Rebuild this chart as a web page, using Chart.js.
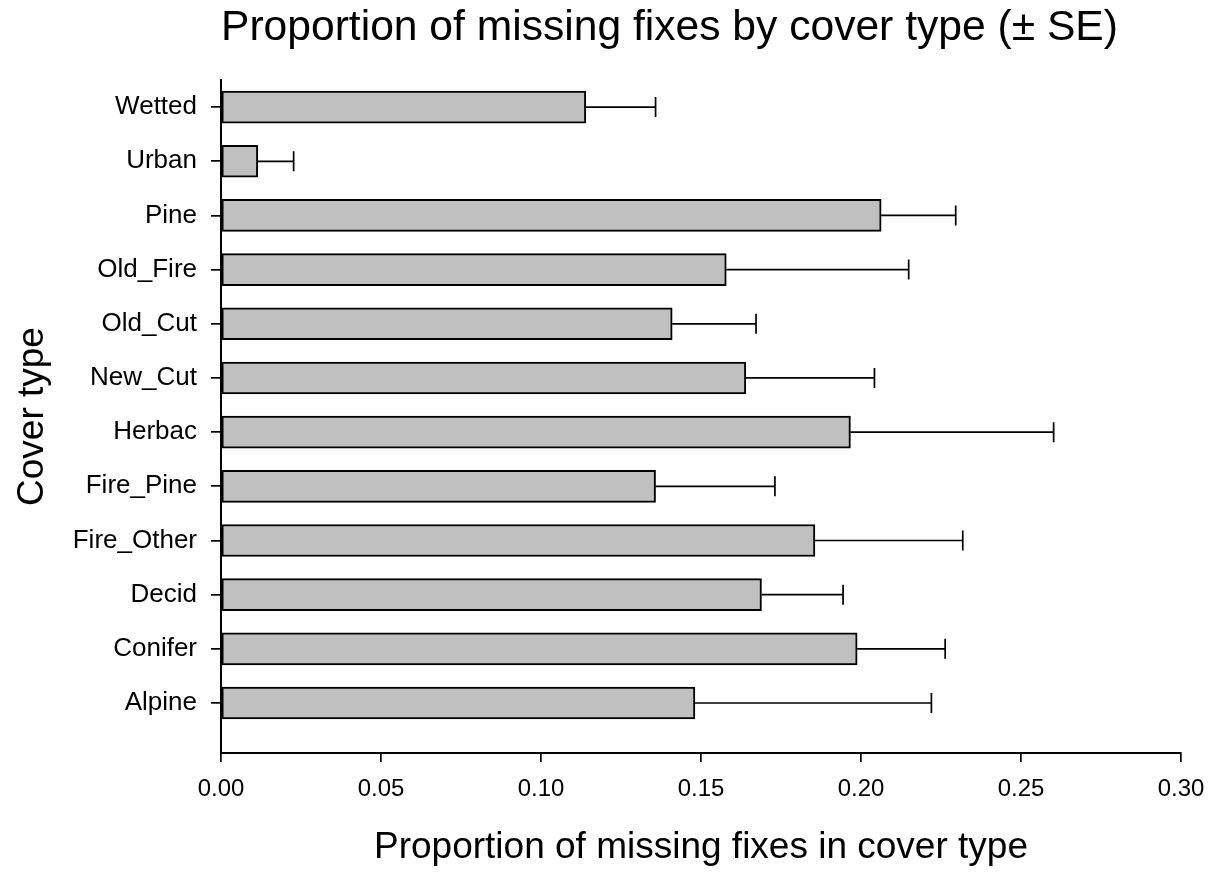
<!DOCTYPE html>
<html>
<head>
<meta charset="utf-8">
<script src="https://cdn.jsdelivr.net/npm/chart.js@4.4.1/dist/chart.umd.min.js"></script>
<style>
  html, body { margin: 0; padding: 0; background: #fff; }
  #wrap { width: 1220px; height: 873px; }
</style>
</head>
<body>
<div id="wrap"><canvas id="myChart" width="1220" height="873"></canvas></div>
<script>
// cover types, bottom to top
var coverTypes = ["Alpine", "Conifer", "Decid", "Fire_Other", "Fire_Pine", "Herbac",
                  "New_Cut", "Old_Cut", "Old_Fire", "Pine", "Urban", "Wetted"];
// proportion of missing fixes
var propMissing = [0.1481, 0.1988, 0.1689, 0.1856, 0.1358, 0.1967,
                   0.1640, 0.1410, 0.1579, 0.2063, 0.0115, 0.1140];
// standard error (upper whisker only)
var propSE = [0.0739, 0.0275, 0.0255, 0.0462, 0.0373, 0.0635,
              0.0402, 0.0262, 0.0570, 0.0233, 0.0112, 0.0218];
var xTicks = [0, 0.05, 0.10, 0.15, 0.20, 0.25, 0.30];

var FONT = "'Liberation Sans', Arial, sans-serif";

// 各バーの点データ
var points = [];
for (var i = 0; i < coverTypes.length; i++) {
  points.push({ x: propMissing[i], y: i });
}

// error bars (+SE), drawn with the chart scales
var errorBars = {
  id: 'errorBars',
  afterDatasetsDraw: function(chart) {
    var ctx = chart.ctx;
    var xs = chart.scales.x, ys = chart.scales.y;
    ctx.save();
    ctx.strokeStyle = '#000';
    ctx.lineWidth = 1.7;
    for (var i = 0; i < propMissing.length; i++) {
      var x1 = xs.getPixelForValue(propMissing[i]);
      var x2 = xs.getPixelForValue(propMissing[i] + propSE[i]);
      var y = ys.getPixelForValue(i);
      ctx.beginPath();
      ctx.moveTo(x1, y); ctx.lineTo(x2, y);
      ctx.moveTo(x2, y - 10); ctx.lineTo(x2, y + 10);
      ctx.stroke();
    }
    ctx.restore();
  }
};

var ctx = document.getElementById('myChart').getContext('2d');
var myChart = new Chart(ctx, {
  type: 'bar',
  data: {
    datasets: [{
      data: points,
      backgroundColor: '#c0c0c0',
      borderColor: '#000',
      borderWidth: 2,
      borderSkipped: false,
      barThickness: 32
    }]
  },
  options: {
    indexAxis: 'y',
    responsive: false,
    animation: false,
    layout: { padding: { left: 0, right: 39, top: 0, bottom: 0 } },
    plugins: {
      legend: { display: false },
      tooltip: { enabled: false },
      title: {
        display: true,
        fullSize: false,
        align: 'start',
        text: 'Proportion of missing fixes by cover type (± SE)',
        color: '#000',
        font: { family: FONT, size: 42.6, weight: 'normal' },
        padding: { top: 3, bottom: 25.9 }
      }
    },
    scales: {
      x: {
        type: 'linear',
        min: 0,
        max: 0.30,
        afterBuildTicks: function(scale) {
          scale.ticks = xTicks.map(function(v) { return { value: v }; });
        },
        afterFit: function(scale) { scale.height = 120; },
        border: { display: true, color: '#000', width: 2 },
        grid: { drawOnChartArea: false, drawTicks: true, tickLength: 9, color: '#000', lineWidth: 1.7 },
        ticks: {
          color: '#000',
          padding: 13,
          font: { family: FONT, size: 24 },
          callback: function(v) { return Number(v).toFixed(2); }
        },
        title: {
          display: true,
          text: 'Proportion of missing fixes in cover type',
          color: '#000',
          font: { family: FONT, size: 37 },
          padding: { top: 0, bottom: 3 }
        }
      },
      y: {
        type: 'linear',
        min: -0.923,
        max: 11.5,
        offset: false,
        afterBuildTicks: function(scale) {
          scale.ticks = coverTypes.map(function(c, i) { return { value: i }; });
        },
        afterFit: function(scale) { scale.width = 221; },
        border: { display: true, color: '#000', width: 2 },
        grid: { offset: false, drawOnChartArea: false, drawTicks: true, tickLength: 10, color: '#000', lineWidth: 1.7 },
        ticks: {
          color: '#000',
          padding: 14,
          autoSkip: false,
          font: { family: FONT, size: 26 },
          callback: function(v) { return coverTypes[v]; }
        },
        title: {
          display: true,
          text: 'Cover type',
          color: '#000',
          font: { family: FONT, size: 37 },
          padding: { top: 11, bottom: 0 }
        }
      }
    }
  },
  plugins: [errorBars]
});
</script>
</body>
</html>
